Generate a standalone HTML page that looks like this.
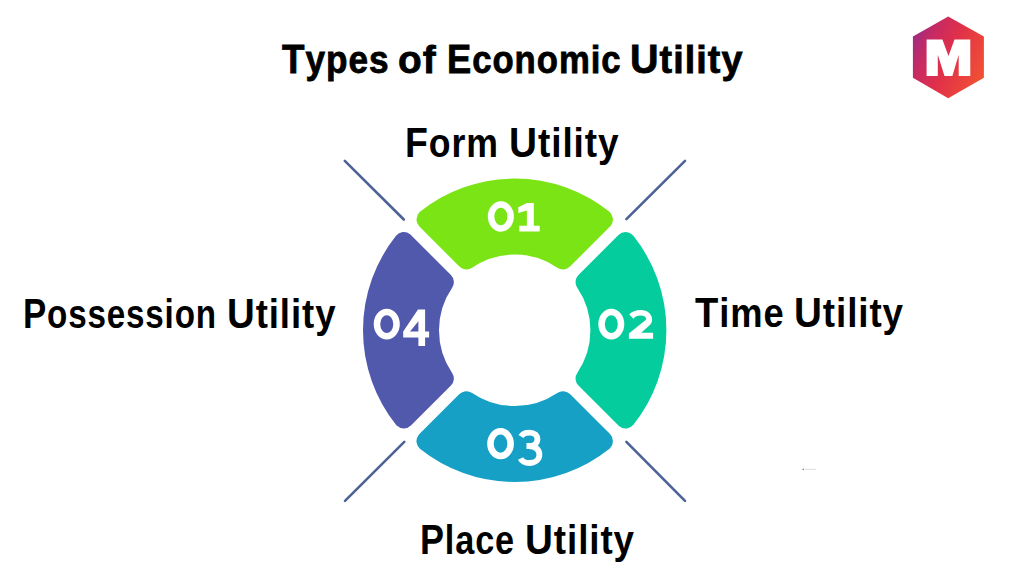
<!DOCTYPE html>
<html><head><meta charset="utf-8">
<style>
html,body{margin:0;padding:0;background:#fff;}
body{width:1024px;height:576px;position:relative;overflow:hidden;font-family:"Liberation Sans",sans-serif;}
.t{position:absolute;white-space:nowrap;font-weight:bold;color:#000;line-height:1;transform-origin:0 0;}
svg{position:absolute;left:0;top:0;}
</style></head>
<body>
<svg width="1024" height="576" viewBox="0 0 1024 576">
  <defs>
    <linearGradient id="hg" x1="0" y1="0.25" x2="1" y2="0.75">
      <stop offset="0" stop-color="#a02c80"/>
      <stop offset="0.22" stop-color="#c82a62"/>
      <stop offset="0.5" stop-color="#e0304a"/>
      <stop offset="1" stop-color="#f25232"/>
    </linearGradient>
  </defs>
  <g stroke="#4d6296" stroke-width="2.6" stroke-linecap="round">
    <line x1="344.8" y1="160.9" x2="403.8" y2="219.5"/>
    <line x1="685" y1="160.8" x2="626.4" y2="219.2"/>
    <line x1="404.3" y1="441.8" x2="345" y2="500.8"/>
    <line x1="626.4" y1="441.8" x2="685" y2="500.8"/>
  </g>
  <g stroke-width="20.0" stroke-linejoin="round">
    <path fill="#7be414" stroke="#7be414" d="M426.46 219.43A141.70 141.70 0 0 1 602.94 219.43L562.92 259.45A85.70 85.70 0 0 0 466.48 259.45Z"/>
    <path fill="#05cc9c" stroke="#05cc9c" d="M625.57 242.06A141.70 141.70 0 0 1 625.57 418.54L585.55 378.52A85.70 85.70 0 0 0 585.55 282.08Z"/>
    <path fill="#16a0c6" stroke="#16a0c6" d="M602.94 441.17A141.70 141.70 0 0 1 426.46 441.17L466.48 401.15A85.70 85.70 0 0 0 562.92 401.15Z"/>
    <path fill="#5159ac" stroke="#5159ac" d="M403.83 418.54A141.70 141.70 0 0 1 403.83 242.06L443.85 282.08A85.70 85.70 0 0 0 443.85 378.52Z"/>
  </g>
  <!-- digits -->
  <g fill="none" stroke="#fff" stroke-width="6.5">
    <ellipse cx="500.85" cy="216.5" rx="9.8" ry="11.95"/>
    <ellipse cx="611.3" cy="324.1" rx="9.75" ry="12.15"/>
    <ellipse cx="500.55" cy="443.65" rx="10.1" ry="12.3"/>
    <ellipse cx="386.75" cy="324.1" rx="9.8" ry="12.15"/>
  </g>
  <g fill="#fff">
    <path d="M526.9 202.9H533.8V225.7H539.7V231.6H519.3V225.7H526.9V210.5L518.3 213V207.3Z"/>
    <path fill-rule="evenodd" d="M418 309.6H425.1V331.5H429.1V337.5H425.1V345.9H418.4V337.5H403.2V331.5ZM418.4 321.2V331.5H410Z"/>
  </g>
  <g fill="none" stroke="#fff" stroke-width="5.8" stroke-linejoin="miter">
    
    <path d="M521 436.5C522.5 434 526 432.6 529.5 432.6C534.5 432.6 537.4 435.5 537.4 439.2C537.4 443.3 534 446 529 446H526.5M529 446C535 446 539.4 449.5 539.4 454.5C539.4 459.5 535.5 463 529.5 463C525.5 463 522 461.5 520.5 458.5"/>
  </g>
  <path fill="#fff" d="M629.2 314.4C631.5 311.4 636 309.9 640.7 309.9C647.5 309.9 652.1 313.9 652.1 319.6C652.1 322.4 651 324.3 648.5 326.3L641.2 332.8H653.1V338.7H628.9V333.6L642.5 322.6C645.2 320.5 646.2 319.4 646.2 319C646.2 317 644 315.5 640.7 315.5C637.6 315.5 635 316.6 633.4 318.8Z"/>
  <circle cx="803.2" cy="469.4" r="0.8" fill="#8a8a8a"/>
  <rect x="805" y="468.8" width="11" height="1.2" fill="#e2e2e2"/>
  <!-- logo -->
  <path fill="url(#hg)" d="M948.2 16.6L983.9 36.4V77.7L948.2 98.3L912.9 77.7V36.4Z"/>
  <path fill="#fff" d="M926.6 39.4H942.4L948.5 56.1L954.5 39.4H970.3V76.1H958.7V54.8L952.4 76.1H944.5L937.8 54.8V76.1H926.6Z"/>
</svg>
<!--TEXT-->
<div class="t" id="w_t1" style="left:281.68px;top:38px;font-size:40.8px;transform:translateY(0.5px) scaleX(0.9025);-webkit-text-stroke:0.8px #000;letter-spacing:1.1px;">T<span style="font-size:39.0px">ypes</span></div>
<div class="t" id="w_t2" style="left:397.92px;top:38px;font-size:40.8px;transform:translateY(0.5px) scaleX(0.9955);-webkit-text-stroke:0.8px #000;letter-spacing:1.1px;"><span style="font-size:39.0px">of</span></div>
<div class="t" id="w_t3" style="left:446.67px;top:38px;font-size:40.8px;transform:translateY(0.5px) scaleX(0.8892);-webkit-text-stroke:0.8px #000;letter-spacing:1.1px;">E<span style="font-size:39.0px">conomic</span></div>
<div class="t" id="w_t4" style="left:630.41px;top:38px;font-size:40.8px;transform:translateY(0.5px) scaleX(0.9675);-webkit-text-stroke:0.8px #000;letter-spacing:1.1px;">U<span style="font-size:39.0px">tility</span></div>
<div class="t" id="w_f1" style="left:405.26px;top:122px;font-size:42px;transform:translateY(0.3px) scaleX(0.8904);letter-spacing:1px;">F<span style="font-size:40.0px">orm</span></div>
<div class="t" id="w_f2" style="left:509.17px;top:122px;font-size:42px;transform:translateY(0.3px) scaleX(0.9240);letter-spacing:1px;">U<span style="font-size:40.0px">tility</span></div>
<div class="t" id="w_m1" style="left:695.30px;top:292px;font-size:42px;transform:translateY(0.4px) scaleX(0.9078);letter-spacing:1px;">T<span style="font-size:40.0px">ime</span></div>
<div class="t" id="w_m2" style="left:793.96px;top:292px;font-size:42px;transform:translateY(0.4px) scaleX(0.9195);letter-spacing:1px;">U<span style="font-size:40.0px">tility</span></div>
<div class="t" id="w_p1" style="left:23.27px;top:292px;font-size:42px;transform:translateY(0.6px) scaleX(0.8297);letter-spacing:1px;">P<span style="font-size:40.0px">ossession</span></div>
<div class="t" id="w_p2" style="left:226.61px;top:292px;font-size:42px;transform:translateY(0.6px) scaleX(0.9149);letter-spacing:1px;">U<span style="font-size:40.0px">tility</span></div>
<div class="t" id="w_l1" style="left:420.42px;top:519px;font-size:42px;transform:translateY(0.2px) scaleX(0.8564);letter-spacing:1px;">P<span style="font-size:40.0px">lace</span></div>
<div class="t" id="w_l2" style="left:524.67px;top:519px;font-size:42px;transform:translateY(0.2px) scaleX(0.9196);letter-spacing:1px;">U<span style="font-size:40.0px">tility</span></div>
<!--/TEXT-->
</body></html>
